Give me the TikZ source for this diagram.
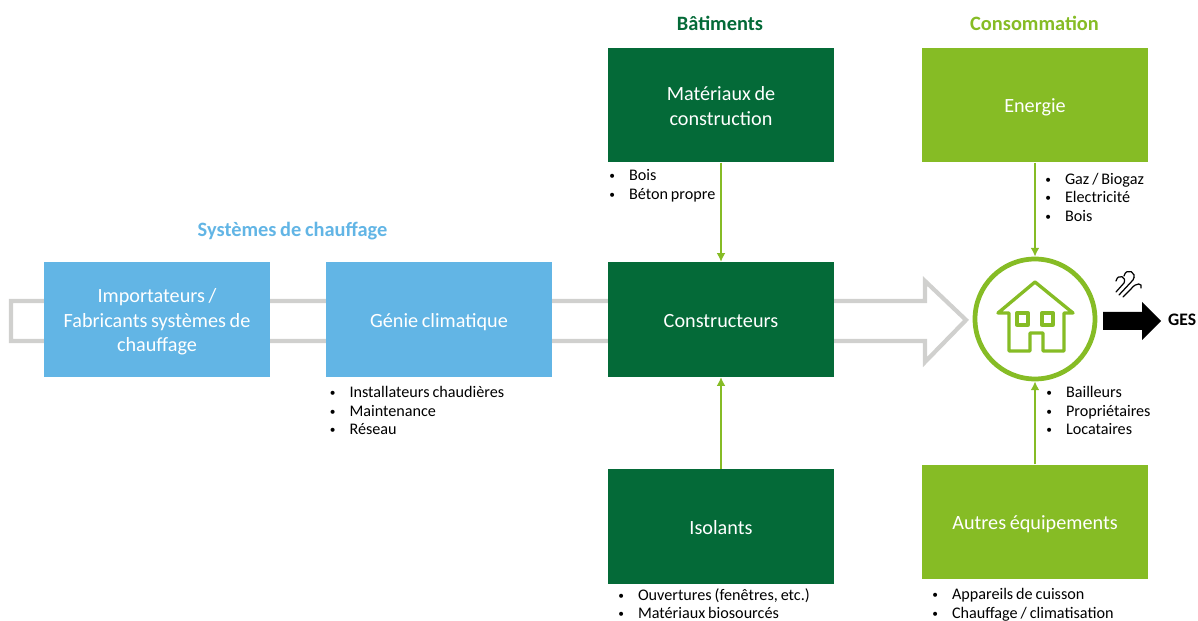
\documentclass[tikz,border=0pt]{standalone}
\usepackage{fontspec}
\setmainfont[WordSpace=0.8]{Carlito}
\usetikzlibrary{arrows.meta,positioning,calc}
\definecolor{skyblue}{HTML}{62B5E5}
\definecolor{darkgreen}{HTML}{046A38}
\definecolor{lightgreen}{HTML}{86BC25}
\definecolor{flowgray}{HTML}{D0D0CE}
\newcommand{\itembul}[1]{\makebox[11.2pt][l]{\raisebox{0.6pt}{\fontsize{6.5}{6.5}\selectfont\textbullet}}#1}
\tikzset{
    stagebox/.style={minimum width=4.52cm, minimum height=2.29cm, inner sep=2pt, text=white, align=flush center, font=\fontsize{11.5}{14.1}\selectfont, text width=4.2cm,
        execute at begin node=\rule{0pt}{11.7pt}, execute at end node=\rule[-3pt]{0pt}{0pt}},
    bluebox/.style={stagebox, fill=skyblue},
    darkbox/.style={stagebox, fill=darkgreen},
    lightbox/.style={stagebox, fill=lightgreen},
    heading/.style={font=\fontsize{11.6}{12}\selectfont\bfseries},
    itemlist/.style={align=left, inner sep=0pt, font=\fontsize{9.2}{10.6}\selectfont},
    feed/.style={-{Latex[length=5pt, width=5pt]}, lightgreen, line width=0.9pt},
    houseline/.style={draw=lightgreen, line width=1.9pt, line join=round, line cap=round},
    windline/.style={line width=0.7pt, line cap=round}
}

\begin{document}
\begin{tikzpicture}[x=0.02cm, y=-0.02cm]
    \useasboundingbox (0,0) rectangle (1198,621);

    % large hollow flow arrow behind the boxes
    \draw[flowgray, line width=2.4pt, line join=miter]
        (11,301) -- (925,301) -- (925,281) -- (966,320) -- (925,362) -- (925,341) -- (11,341) -- cycle;

    % heating systems
    \node[bluebox] (importers) at (157,319.5) {Importateurs /\\Fabricants systèmes de\\chauffage};
    \node[bluebox] (genie) at (439,319.5) {Génie climatique};

    % buildings
    \node[darkbox] (builders) at (721,319.5) {Constructeurs};
    \node[darkbox] (materials) at (721,105) {Matériaux de\\construction};
    \node[darkbox] (insulation) at (721,526.5) {Isolants};

    % consumption
    \node[lightbox] (energy) at (1035,105) {Energie};
    \node[lightbox] (equipment) at (1035,522) {Autres équipements};
    \node[circle, draw=lightgreen, line width=2.7pt, minimum size=2.4cm, inner sep=0pt] (home) at (1035,319) {};

    % headings
    \node[heading, text=skyblue] (heatinghead) at (292.5,231.5) {Systèmes de chauffage};
    \node[heading, text=darkgreen] (buildinghead) at (720,23) {Bâtiments};
    \node[heading, text=lightgreen] (consumptionhead) at (1034.5,23) {Consommation};

    % item lists
    \node[itemlist, anchor=north west] (genielist) at (329.5,386) {\itembul{Installateurs chaudières}\\\itembul{Maintenance}\\\itembul{Réseau}};
    \node[itemlist, anchor=north west] (materialslist) at (609,169.5) {\itembul{Bois}\\\itembul{Béton propre}};
    \node[itemlist, anchor=north west] (insulationlist) at (618,588) {\itembul{Ouvertures (fenêtres, etc.)}\\\itembul{Matériaux biosourcés}};
    \node[itemlist, anchor=north west] (energylist) at (1045,172.5) {\itembul{Gaz / Biogaz}\\\itembul{Electricité}\\\itembul{Bois}};
    \node[itemlist, anchor=north west] (ownerslist) at (1046,386) {\itembul{Bailleurs}\\\itembul{Propriétaires}\\\itembul{Locataires}};
    \node[itemlist, anchor=north west] (equipmentlist) at (932,588) {\itembul{Appareils de cuisson}\\\itembul{Chauffage / climatisation}};

    % feeds into the chain
    \draw[feed] (materials) -- (builders);
    \draw[feed] (insulation) -- (builders);
    \draw[feed] (energy) -- (home);
    \draw[feed] (equipment) -- (home);

    % house icon
    \draw[houseline] (1009,351) -- (1009,313) -- (998,313) -- (1035,282) -- (1073,313) -- (1064,313) -- (1064,351) -- (1043,351) -- (1043,333) -- (1030,333) -- (1030,351) -- cycle;
    \draw[houseline] (1017,313) rectangle (1028,325);
    \draw[houseline] (1042,313) rectangle (1053,325);

    % emissions
    \fill (1103,312) -- (1142,312) -- (1142,302) -- (1161,321) -- (1142,340) -- (1142,330) -- (1103,330) -- cycle;
    \node[font=\fontsize{10}{12}\selectfont\bfseries, anchor=west] (ghg) at (1162,320) {GES};
    \draw[windline] (1116,292) -- (1124,283) .. controls (1127,277) and (1118,273) .. (1116,281);
    \draw[windline] (1119,295) -- (1133,280) .. controls (1138,272) and (1126,267) .. (1124,276);
    \draw[windline] (1123,297) -- (1131,289) .. controls (1136,282) and (1143,283) .. (1141,288);
\end{tikzpicture}
\end{document}
